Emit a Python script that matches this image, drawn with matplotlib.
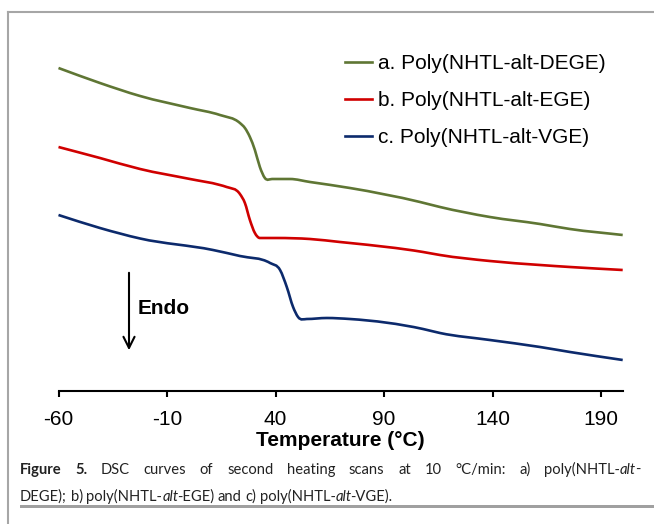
import matplotlib
matplotlib.use("Agg")
import matplotlib.pyplot as plt
from matplotlib.transforms import IdentityTransform
from matplotlib.patches import Rectangle, PathPatch
from matplotlib.lines import Line2D
from matplotlib.path import Path

# %% Data (heat flow in arbitrary units, exo up)
temp_a = [-60, -40.9, -22.4, 0.6, 14.4, 23.6, 25.9, 28.2, 30.5, 32.8, 35.1, 38.4,
          46.7, 55.9, 74.3, 106.6, 115.8, 138.8, 161.9, 175.7, 200]
flow_a = [3.23, 3.08, 2.95, 2.83, 2.76, 2.68, 2.63, 2.54, 2.41, 2.24, 2.13, 2.12,
          2.12, 2.09, 2.03, 1.89, 1.84, 1.74, 1.67, 1.62, 1.56]

temp_b = [-60, -40.9, -22.4, 0.6, 14.4, 17.5, 23.6, 25.9, 28.2, 30.5, 32.8, 40.6, 55.9,
          69.7, 74.3, 108, 115.8, 138.8, 161.9, 175.7, 200]
flow_b = [2.44, 2.33, 2.22, 2.12, 2.06, 2.04, 1.97, 1.88, 1.71, 1.58, 1.53, 1.53, 1.52,
          1.49, 1.48, 1.39, 1.36, 1.30, 1.26, 1.24, 1.21]

temp_c = [-60, -40.9, -22.4, 11.2, 23.6, 37.5, 42.1, 45.2, 48.1, 50.4, 54.4, 63.6, 74.3,
          108, 115.8, 138.8, 161.9, 175.7, 200]
flow_c = [1.76, 1.63, 1.525, 1.41, 1.35, 1.28, 1.21, 1.04, 0.84, 0.74, 0.72, 0.73, 0.72,
          0.62, 0.58, 0.51, 0.44, 0.39, 0.31]

labels = ["a. Poly(NHTL-alt-DEGE)", "b. Poly(NHTL-alt-EGE)", "c. Poly(NHTL-alt-VGE)"]
colors = ["#5f7634", "#d00000", "#0c2a6c"]
xticks = [-60, -10, 40, 90, 140, 190]

W, H = 654, 524
plt.rcParams['font.family'] = ['Liberation Sans', 'DejaVu Sans']


def smooth_path(xs, ys):
    # smoothed line: cubic Hermite segments drawn as Beziers
    n = len(xs)
    h = [xs[i + 1] - xs[i] for i in range(n - 1)]
    d = [(ys[i + 1] - ys[i]) / h[i] for i in range(n - 1)]
    m = [d[0]] + [0.0] * (n - 2) + [d[-1]]
    for i in range(1, n - 1):
        if d[i - 1] * d[i] <= 0:
            m[i] = 0.0
        else:
            m[i] = (h[i] * d[i - 1] + h[i - 1] * d[i]) / (h[i - 1] + h[i])
    verts = [(xs[0], ys[0])]
    codes = [Path.MOVETO]
    for i in range(n - 1):
        verts += [(xs[i] + h[i] / 3, ys[i] + m[i] * h[i] / 3),
                  (xs[i + 1] - h[i] / 3, ys[i + 1] - m[i + 1] * h[i] / 3),
                  (xs[i + 1], ys[i + 1])]
        codes += [Path.CURVE4] * 3
    return Path(verts, codes)


fig = plt.figure(figsize=(W / 100, H / 100), dpi=100)
ax = fig.add_axes([58.5 / W, (H - 391) / H, (622.7 - 58.5) / W, (391 - 20) / H])

handles = []
for t, f, c in zip([temp_a, temp_b, temp_c], [flow_a, flow_b, flow_c], colors):
    ax.add_patch(PathPatch(smooth_path(t, f), fill=False, edgecolor=c, lw=1.9,
                           capstyle='butt', clip_on=False))
    handles.append(Line2D([], [], color=c, lw=1.9))

ax.set_xlim(-60, 200)
ax.set_ylim(0, 3.71)
ax.set_xticks(xticks)
ax.set_xticklabels([str(v) for v in xticks])
ax.set_yticks([])
for s in ['left', 'right', 'top']:
    ax.spines[s].set_visible(False)
ax.spines['bottom'].set_linewidth(1.5)
ax.tick_params(axis='x', direction='out', length=4, width=1.5, pad=10, labelsize=15)
ax.set_xlabel("Temperature (°C)", fontsize=15, fontweight='bold', labelpad=1)

ax.legend(handles, labels, loc='upper left', bbox_to_anchor=(345 / W, (H - 54) / H),
          bbox_transform=fig.transFigure, frameon=False, fontsize=15,
          handlelength=1.3, handletextpad=0.3, labelspacing=0.86,
          borderpad=0, borderaxespad=0)

# Endo arrow
ax.annotate('', xy=(129, H - 353), xytext=(129, H - 270),
            xycoords='figure pixels', textcoords='figure pixels',
            arrowprops=dict(arrowstyle='->', lw=1.5, color='black', mutation_scale=20))
fig.text(138, H - 308, "Endo", transform=IdentityTransform(), fontsize=15,
         fontweight='bold', va='center', ha='left')

# page frame
frame_col = '#a6a6a6'
fig.add_artist(Line2D([8, W], [H - 12, H - 12], transform=IdentityTransform(),
                      color=frame_col, lw=1.5))
fig.add_artist(Line2D([8, 8], [H - 12, 0], transform=IdentityTransform(),
                      color=frame_col, lw=1.5))
fig.add_artist(Rectangle((20, H - 508), W - 20, 3, transform=IdentityTransform(),
                         color='#a0a0a0', lw=0))

# caption with mixed styles
cap_font = ['Lato', 'DejaVu Sans']
cap_size = 10.6
fig.canvas.draw()
renderer = fig.canvas.get_renderer()


def run_width(txt, weight='normal', style='normal'):
    t = fig.text(0, 0, txt, transform=IdentityTransform(), family=cap_font,
                 fontsize=cap_size, fontweight=weight, fontstyle=style)
    w = t.get_window_extent(renderer).width
    t.remove()
    if style == 'italic':
        w -= 1.5
    return w


def draw_line(words, x0, y, width=None):
    widths = [sum(run_width(*r) for r in w) for w in words]
    gap = run_width("a a") - run_width("aa")
    if width is not None:
        gap = (width - sum(widths)) / (len(words) - 1)
    x = x0
    for w, ww in zip(words, widths):
        xx = x
        for r in w:
            txt = r[0]
            weight = r[1] if len(r) > 1 else 'normal'
            style = r[2] if len(r) > 2 else 'normal'
            fig.text(xx, y, txt, transform=IdentityTransform(), family=cap_font,
                     fontsize=cap_size, fontweight=weight, fontstyle=style,
                     va='baseline', ha='left', color='#222222')
            xx += run_width(txt, weight, style)
        x += ww + gap


line1 = [[("Figure", 'bold')], [("5.", 'bold')], [("DSC",)], [("curves",)], [("of",)],
         [("second",)], [("heating",)], [("scans",)], [("at",)], [("10",)],
         [("°C/min:",)], [("a)",)],
         [("poly(NHTL-",), ("alt", 'normal', 'italic'), ("-",)]]
line2 = [[("DEGE);",)], [("b)",)], [("poly(NHTL-",), ("alt", 'normal', 'italic'), ("-EGE)",)],
         [("and",)], [("c)",)], [("poly(NHTL-",), ("alt", 'normal', 'italic'), ("-VGE).",)]]

draw_line(line1, 20, H - 474, width=620)
draw_line(line2, 20, H - 501)

fig.savefig("out.png", dpi=100)
